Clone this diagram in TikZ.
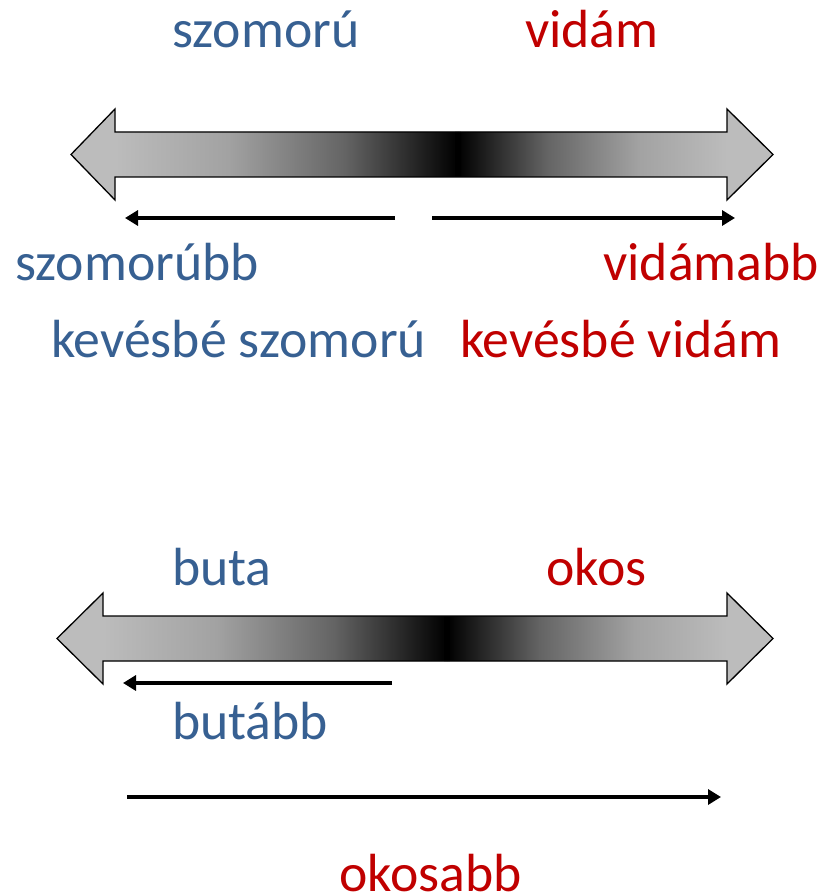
\documentclass[tikz,border=0pt]{standalone}
\usepackage{fontspec}
\setmainfont{Carlito}
\usetikzlibrary{arrows.meta}
\definecolor{txtblue}{RGB}{55,96,146}
\definecolor{txtred}{RGB}{192,0,0}
\definecolor{lg}{RGB}{188,188,188}
\definecolor{gA}{RGB}{162,162,162}
\definecolor{gB}{RGB}{100,100,100}
\pgfdeclarehorizontalshading{fadeleft}{100bp}{color(0bp)=(lg); color(25bp)=(lg); color(41.5bp)=(gA); color(58.5bp)=(gB); color(75bp)=(black); color(100bp)=(black)}
\pgfdeclarehorizontalshading{faderight}{100bp}{color(0bp)=(black); color(25bp)=(black); color(41.5bp)=(gB); color(58.5bp)=(gA); color(75bp)=(lg); color(100bp)=(lg)}
\tikzset{
  lbl/.style={inner sep=0pt, font=\fontsize{53.7}{60}\selectfont},
  bluelbl/.style={lbl, text=txtblue},
  redlbl/.style={lbl, text=txtred},
  thinarrow/.style={line width=4pt, -{Triangle[length=13pt,width=15pt]}},
  outline/.style={draw=black, line width=1.3pt, line join=miter}
}
% #1 y centre, #2 left tip, #3 left head base, #4 dark centre, #5 right head base, #6 right tip
\newcommand\gradarrow[6]{%
  \begin{scope}
    \clip ({#2},{#1}) -- ({#3},{#1-45.5}) -- ({#3},{#1-22.5}) -- ({#5},{#1-22.5}) -- ({#5},{#1-45.5})
      -- ({#6},{#1}) -- ({#5},{#1+45.5}) -- ({#5},{#1+22.5}) -- ({#3},{#1+22.5}) -- ({#3},{#1+45.5}) -- cycle;
    \fill[lg] ({#2-2},{#1-50}) rectangle ({#6+2},{#1+50});
    \shade[shading=fadeleft] ({#3},{#1-23}) rectangle ({#4},{#1+23});
    \shade[shading=faderight] ({#4},{#1-23}) rectangle ({#5},{#1+23});
    \fill[black] ({#4-3},{#1-23}) rectangle ({#4+3},{#1+23});
  \end{scope}
  \draw[outline] ({#2},{#1}) -- ({#3},{#1-45.5}) -- ({#3},{#1-22.5}) -- ({#5},{#1-22.5}) -- ({#5},{#1-45.5})
      -- ({#6},{#1}) -- ({#5},{#1+45.5}) -- ({#5},{#1+22.5}) -- ({#3},{#1+22.5}) -- ({#3},{#1+45.5}) -- cycle;
}
\begin{document}
\begin{tikzpicture}[x=1pt, y=-1pt]
\useasboundingbox (0,0) rectangle (823,896);

% top scale
\node[bluelbl, anchor=base west] (szomoru) at (172,48) {szomorú};
\node[redlbl, anchor=base west] (vidam) at (525,48) {vidám};
\gradarrow{154.5}{71}{115}{458}{727}{773}
\coordinate (a1s) at (395,218);
\coordinate (a1e) at (125,218);
\coordinate (a2s) at (432,218);
\coordinate (a2e) at (735,218);
\draw[thinarrow] (a1s) -- (a1e);
\draw[thinarrow] (a2s) -- (a2e);
\node[bluelbl, anchor=base west] (szomorubb) at (15,280) {szomorúbb};
\node[redlbl, anchor=base east] (vidamabb) at (819,280) {vidámabb};
\node[bluelbl, anchor=base west] (kevszom) at (51,357) {kevésbé szomorú};
\node[redlbl, anchor=base west] (kevvid) at (460,357) {kevésbé vidám};

% bottom scale
\node[bluelbl, anchor=base west] (buta) at (172,585) {buta};
\node[redlbl, anchor=base west] (okos) at (546,585) {okos};
\gradarrow{638.5}{57}{103}{447}{727}{773}
\coordinate (b1s) at (392,683);
\coordinate (b1e) at (123,683);
\draw[thinarrow] (b1s) -- (b1e);
\node[bluelbl, anchor=base west] (butabb) at (172,739) {butább};
\coordinate (b2s) at (127,797);
\coordinate (b2e) at (721,797);
\draw[thinarrow] (b2s) -- (b2e);
\node[redlbl, anchor=base west] (okosabb) at (339,891) {okosabb};
\end{tikzpicture}
\end{document}
